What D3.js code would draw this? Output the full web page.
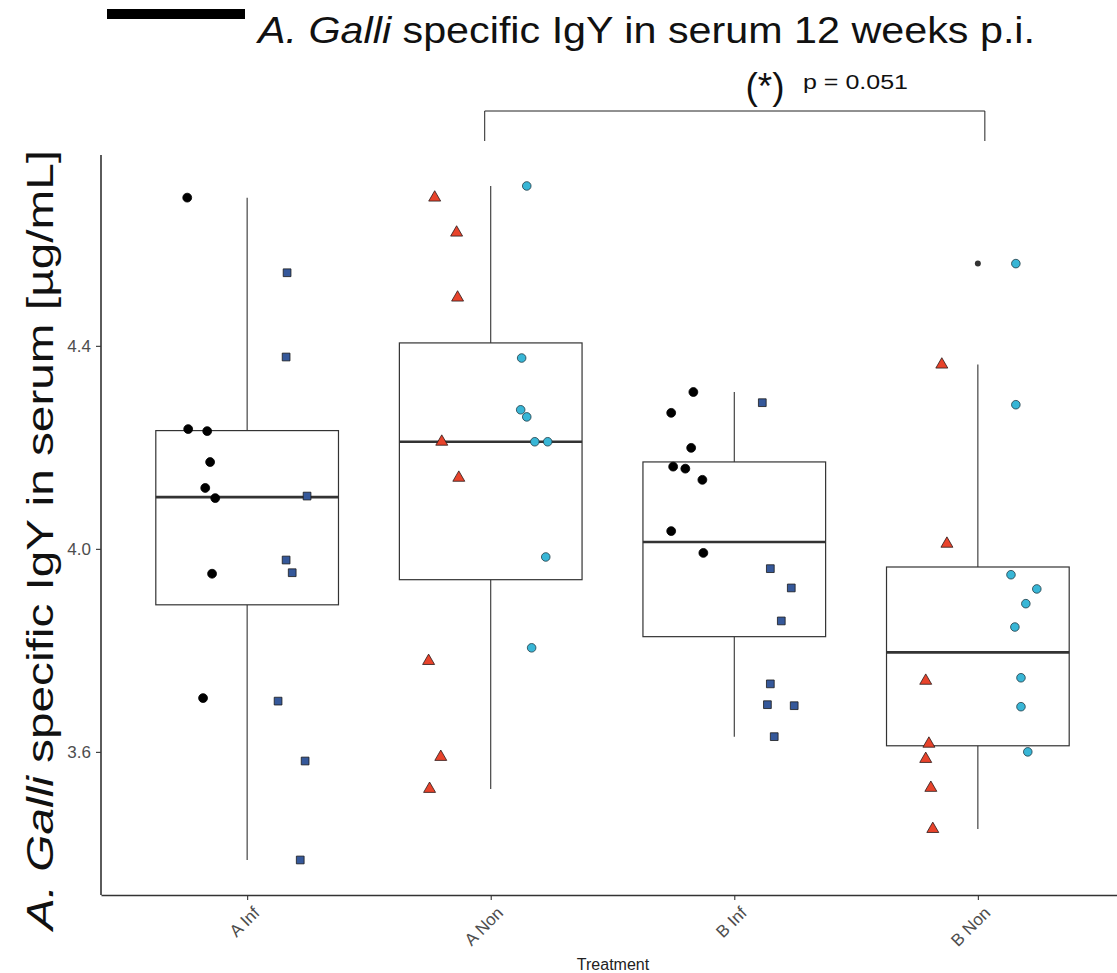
<!DOCTYPE html>
<html>
<head>
<meta charset="utf-8">
<script src="https://cdn.jsdelivr.net/npm/d3@7"></script>
<style>
  body { margin: 0; background: #fff; }
  svg { display: block; }
</style>
</head>
<body>
<svg id="chart" width="1117" height="973"></svg>
<script>
// categories and tick labels
const categories = ['A Inf', 'A Non', 'B Inf', 'B Non'];
const yTicks = [3.6, 4.0, 4.4];

// left subgroup (black circles for Inf, red triangles for Non)
const aInfLeft = [4.692, 4.236, 4.232, 4.171, 4.120, 4.100, 3.951, 3.706];
const aInfLeftJit = [-0.246, -0.242, -0.164, -0.152, -0.172, -0.131, -0.144, -0.181];
const aNonLeft = [4.692, 4.623, 4.495, 4.211, 4.140, 3.779, 3.590, 3.527];
const aNonLeftJit = [-0.230, -0.140, -0.136, -0.201, -0.131, -0.255, -0.205, -0.251];
const bInfLeft = [4.309, 4.268, 4.199, 4.162, 4.158, 4.136, 4.035, 3.992];
const bInfLeftJit = [-0.168, -0.259, -0.177, -0.251, -0.201, -0.131, -0.259, -0.127];
const bNonLeft = [4.363, 4.010, 3.740, 3.616, 3.586, 3.529, 3.448];
const bNonLeftJit = [-0.148, -0.127, -0.214, -0.201, -0.214, -0.193, -0.185];

// right subgroup (blue squares for Inf, cyan circles for Non)
const aInfRight = [4.544, 4.378, 4.104, 3.978, 3.953, 3.700, 3.582, 3.387];
const aInfRightJit = [0.164, 0.160, 0.246, 0.160, 0.185, 0.127, 0.238, 0.218];
const aNonRight = [4.715, 4.376, 4.274, 4.260, 4.211, 4.211, 3.984, 3.805];
const aNonRightJit = [0.148, 0.127, 0.123, 0.148, 0.181, 0.234, 0.226, 0.168];
const bInfRight = [4.288, 3.961, 3.923, 3.858, 3.734, 3.693, 3.691, 3.630];
const bInfRightJit = [0.115, 0.148, 0.234, 0.193, 0.148, 0.136, 0.246, 0.164];
const bNonRight = [4.562, 4.284, 3.949, 3.921, 3.892, 3.846, 3.746, 3.689, 3.600];
const bNonRightJit = [0.156, 0.156, 0.136, 0.242, 0.197, 0.152, 0.177, 0.177, 0.205];

const pText = 'p = 0.051';

const groups = [
  { left: aInfLeft, leftJit: aInfLeftJit, right: aInfRight, rightJit: aInfRightJit, kind: 'Inf' },
  { left: aNonLeft, leftJit: aNonLeftJit, right: aNonRight, rightJit: aNonRightJit, kind: 'Non' },
  { left: bInfLeft, leftJit: bInfLeftJit, right: bInfRight, rightJit: bInfRightJit, kind: 'Inf' },
  { left: bNonLeft, leftJit: bNonLeftJit, right: bNonRight, rightJit: bNonRightJit, kind: 'Non' }
];

const svg = d3.select('#chart');
const x = d3.scaleLinear().domain([-0.6, 3.6]).range([101, 1124]);
const y = d3.scaleLinear().domain([3.318, 4.776]).range([895, 155]);
const unit = x(1) - x(0);
const axisColor = '#333333';
const fontTitle = "'Liberation Sans', Arial, sans-serif";

// title + redaction bar
svg.append('rect').attr('x', 107).attr('y', 9).attr('width', 138).attr('height', 10).attr('fill', '#000');
const title = svg.append('text')
  .attr('x', 258).attr('y', 43)
  .attr('font-family', fontTitle).attr('font-size', 37)
  .attr('textLength', 777).attr('lengthAdjust', 'spacingAndGlyphs')
  .attr('fill', '#111');
title.append('tspan').attr('font-style', 'italic').text('A. Galli');
title.append('tspan').text(' specific IgY in serum 12 weeks p.i.');

// y label
const ylab = svg.append('text')
  .attr('transform', 'translate(53,540) rotate(-90)')
  .attr('text-anchor', 'middle')
  .attr('font-family', fontTitle).attr('font-size', 37)
  .attr('textLength', 780).attr('lengthAdjust', 'spacingAndGlyphs')
  .attr('fill', '#111');
ylab.append('tspan').attr('font-style', 'italic').text('A. Galli');
ylab.append('tspan').text(' specific IgY in serum [µg/mL]');

// boxplots
const plot = svg.append('g');
groups.forEach((g, i) => {
  const vals = g.left.concat(g.right).sort(d3.ascending);
  const q1 = d3.quantile(vals, 0.25);
  const med = d3.quantile(vals, 0.5);
  const q3 = d3.quantile(vals, 0.75);
  const iqr = q3 - q1;
  const lo = d3.min(vals.filter((v) => v >= q1 - 1.5 * iqr));
  const hi = d3.max(vals.filter((v) => v <= q3 + 1.5 * iqr));
  const outliers = vals.filter((v) => v < lo || v > hi);
  const cx = x(i);
  const hw = unit * 0.375;

  plot.append('line').attr('x1', cx).attr('x2', cx).attr('y1', y(q3)).attr('y2', y(hi))
    .attr('stroke', axisColor).attr('stroke-width', 1.1);
  plot.append('line').attr('x1', cx).attr('x2', cx).attr('y1', y(q1)).attr('y2', y(lo))
    .attr('stroke', axisColor).attr('stroke-width', 1.1);
  plot.append('rect')
    .attr('x', cx - hw).attr('width', 2 * hw)
    .attr('y', y(q3)).attr('height', y(q1) - y(q3))
    .attr('fill', '#fff').attr('stroke', axisColor).attr('stroke-width', 1.2);
  plot.append('line').attr('x1', cx - hw).attr('x2', cx + hw).attr('y1', y(med)).attr('y2', y(med))
    .attr('stroke', axisColor).attr('stroke-width', 2.6);
  plot.selectAll(null).data(outliers).join('circle')
    .attr('cx', cx).attr('cy', (d) => y(d)).attr('r', 3)
    .attr('fill', axisColor);
});

// points
const sym = {
  circleBlack: { type: d3.symbolCircle, size: 62, fill: '#000', stroke: '#000' },
  square: { type: d3.symbolSquare, size: 60, fill: '#35589a', stroke: '#1a1a1a' },
  triangle: { type: d3.symbolTriangle, size: 62, fill: '#e8432b', stroke: '#2a1a1a' },
  circleCyan: { type: d3.symbolCircle, size: 58, fill: '#38b6d6', stroke: '#1f3a44' }
};
groups.forEach((g, i) => {
  const leftStyle = g.kind === 'Inf' ? sym.circleBlack : sym.triangle;
  const rightStyle = g.kind === 'Inf' ? sym.square : sym.circleCyan;
  [[g.left, g.leftJit, leftStyle], [g.right, g.rightJit, rightStyle]].forEach(([vals, jit, st]) => {
    plot.selectAll(null).data(vals).join('path')
      .attr('d', d3.symbol().type(st.type).size(st.size))
      .attr('transform', (d, k) => `translate(${x(i + jit[k])},${y(d)})`)
      .attr('fill', st.fill).attr('stroke', st.stroke).attr('stroke-width', 0.8);
  });
});

// axes
const yAxis = svg.append('g').attr('transform', 'translate(101,0)')
  .call(d3.axisLeft(y).tickValues(yTicks).tickFormat(d3.format('.1f')).tickSize(5).tickSizeOuter(0));
const xAxis = svg.append('g').attr('transform', 'translate(0,895)')
  .call(d3.axisBottom(x).tickValues([0, 1, 2, 3]).tickFormat((i) => categories[i]).tickSize(5).tickSizeOuter(0));
[yAxis, xAxis].forEach((a) => {
  a.attr('font-size', null).attr('font-family', null);
  a.select('.domain').attr('stroke', axisColor).attr('stroke-width', 1.6);
  a.selectAll('.tick line').attr('stroke', axisColor).attr('stroke-width', 1.1);
  a.selectAll('text')
    .attr('fill', '#4d4d4d')
    .style('font-family', "'Liberation Sans', Arial, sans-serif")
    .style('font-size', '17px');
});
yAxis.select('.domain').attr('d', 'M0,155V895');
yAxis.selectAll('text').attr('x', -10).attr('dy', '0.35em');
xAxis.selectAll('text')
  .attr('text-anchor', 'end')
  .attr('x', 0).attr('y', 0).attr('dy', 0)
  .attr('transform', 'translate(13,19) rotate(-45)');

svg.append('text')
  .attr('x', 613).attr('y', 970)
  .attr('text-anchor', 'middle')
  .style('font-family', "'Liberation Sans', Arial, sans-serif").style('font-size', '16px')
  .attr('fill', '#222')
  .text('Treatment');

// significance bracket
const bx1 = x(1) - 6;
const bx2 = x(3) + 7;
svg.append('path')
  .attr('d', `M${bx1},141V111H${bx2}V141`)
  .attr('fill', 'none').attr('stroke', '#222').attr('stroke-width', 1);
svg.append('text')
  .attr('x', 765).attr('y', 99).attr('text-anchor', 'middle')
  .attr('font-family', fontTitle).attr('font-size', 37).attr('fill', '#111')
  .text('(*)');
svg.append('text')
  .attr('x', 803).attr('y', 89)
  .attr('font-family', fontTitle).attr('font-size', 20).attr('fill', '#111')
  .attr('textLength', 105).attr('lengthAdjust', 'spacingAndGlyphs')
  .text(pText);
</script>
</body>
</html>
